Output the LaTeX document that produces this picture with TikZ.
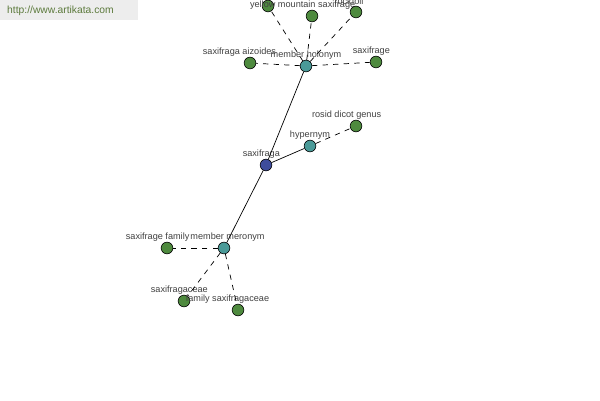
\documentclass[tikz,border=0pt]{standalone}
\usepackage{fontspec}
\setmainfont{Liberation Sans}
\definecolor{leafgreen}{HTML}{4E8A3E}
\definecolor{relteal}{HTML}{4A9A98}
\definecolor{rootblue}{HTML}{3E4C9C}
\definecolor{marktext}{HTML}{5C7A3C}
\tikzset{
  word/.style={circle,draw=black,line width=0.5pt,fill=leafgreen,minimum size=10pt,inner sep=0pt},
  rel/.style={word,fill=relteal},
  root/.style={word,fill=rootblue},
  lbl/.style={font=\fontsize{7.8}{8}\selectfont,text=black!75,inner sep=0.5pt},
  link/.style={black,line width=0.6pt},
  sub/.style={link,dash pattern=on 4.5pt off 4.5pt}
}
\begin{document}
\begin{tikzpicture}[x=0.03cm,y=-0.03cm]
	\useasboundingbox (0,0) rectangle (600,400);
	\clip (0,0) rectangle (600,400);
	\fill[black!7] (0,0) rectangle (138,20);
	\node[anchor=west,inner sep=0pt,text=marktext,font=\fontsize{8.8}{10}\selectfont] (mark) at (7,11) {http://www.artikata.com};

	\node[root,label={[lbl,xshift=-4]above:saxifraga}] (saxifraga) at (266,165) {};
	\node[rel,label={[lbl]above:member holonym}] (holonym) at (306,66) {};
	\node[rel,label={[lbl]above:hypernym}] (hypernym) at (310,146) {};
	\node[rel,label={[lbl,xshift=3]above:member meronym}] (meronym) at (224,248) {};

	\node[word] (w1) at (268,6) {};
	\node[word,label={[lbl,xshift=-8]above:yellow mountain saxifrage}] (w2) at (312,16) {};
	\node[word,label={[lbl,xshift=-6]above:rockfoil}] (w3) at (356,12) {};
	\node[word,label={[lbl,xshift=-9]above:saxifraga aizoides}] (w4) at (250,63) {};
	\node[word,label={[lbl,xshift=-4]above:saxifrage}] (w5) at (376,62) {};
	\node[word,label={[lbl,xshift=-8]above:rosid dicot genus}] (w6) at (356,126) {};
	\node[word,label={[lbl,xshift=-8]above:saxifrage family}] (w7) at (167,248) {};
	\node[word,label={[lbl,xshift=-4]above:saxifragaceae}] (w8) at (184,301) {};
	\node[word,label={[lbl,xshift=-9]above:family saxifragaceae}] (w9) at (238,310) {};

	\draw[link] (saxifraga) -- (holonym);
	\draw[link] (saxifraga) -- (hypernym);
	\draw[link] (saxifraga) -- (meronym);

	\draw[sub] (holonym) -- (w1);
	\draw[sub] (holonym) -- (w2);
	\draw[sub] (holonym) -- (w3);
	\draw[sub] (holonym) -- (w4);
	\draw[sub] (holonym) -- (w5);
	\draw[sub] (hypernym) -- (w6);
	\draw[sub] (meronym) -- (w7);
	\draw[sub] (meronym) -- (w8);
	\draw[sub] (meronym) -- (w9);
\end{tikzpicture}
\end{document}
